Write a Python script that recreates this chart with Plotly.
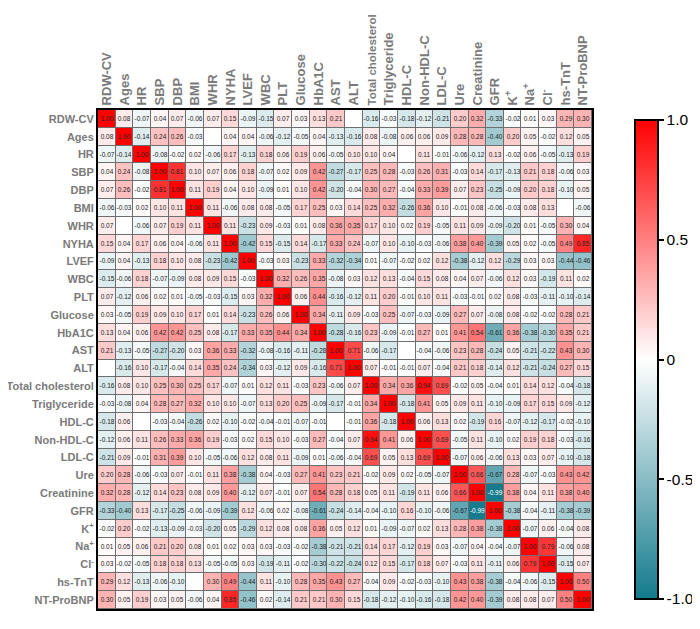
import plotly.graph_objects as go

labels = ["RDW-CV", "Ages", "HR", "SBP", "DBP", "BMI", "WHR", "NYHA", "LVEF", "WBC",
          "PLT", "Glucose", "HbA1C", "AST", "ALT", "Total cholesterol", "Triglyceride",
          "HDL-C", "Non-HDL-C", "LDL-C", "Ure", "Creatinine", "GFR", "K<sup>+</sup>",
          "Na<sup>+</sup>", "Cl<sup>-</sup>", "hs-TnT", "NT-ProBNP"]

# Upper-triangle rows (row i holds columns i..27); None = blank cell
r_rdw = [1.00, 0.08, -0.07, 0.04, 0.07, -0.06, 0.07, 0.15, -0.09, -0.15, 0.07, 0.03, 0.13, 0.21, None, -0.16, -0.03, -0.18, -0.12, -0.21, 0.20, 0.32, -0.33, -0.02, 0.01, 0.03, 0.29, 0.30]
r_age = [1.00, -0.14, 0.24, 0.26, -0.03, None, 0.04, 0.04, -0.06, -0.12, -0.05, 0.04, -0.13, -0.16, 0.08, -0.08, 0.06, 0.06, 0.09, 0.28, 0.28, -0.40, 0.20, 0.05, -0.02, 0.12, 0.05]
r_hr = [1.00, -0.08, -0.02, 0.02, -0.06, 0.17, -0.13, 0.18, 0.06, 0.19, 0.06, -0.05, 0.10, 0.10, 0.04, None, 0.11, -0.01, -0.06, -0.12, 0.13, -0.02, 0.06, -0.05, -0.13, 0.19]
r_sbp = [1.00, 0.81, 0.10, 0.07, 0.06, 0.18, -0.07, 0.02, 0.09, 0.42, -0.27, -0.17, 0.25, 0.28, -0.03, 0.26, 0.31, -0.03, 0.14, -0.17, -0.13, 0.21, 0.18, -0.06, 0.03]
r_dbp = [1.00, 0.11, 0.19, 0.04, 0.10, -0.09, 0.01, 0.10, 0.42, -0.20, -0.04, 0.30, 0.27, -0.04, 0.33, 0.39, 0.07, 0.23, -0.25, -0.09, 0.20, 0.18, -0.10, 0.05]
r_bmi = [1.00, 0.11, -0.06, 0.08, 0.08, -0.05, 0.17, 0.25, 0.03, 0.14, 0.25, 0.32, -0.26, 0.36, 0.10, -0.01, 0.08, -0.06, -0.03, 0.08, 0.13, None, -0.06]
r_whr = [1.00, 0.11, -0.23, 0.09, -0.03, 0.01, 0.08, 0.36, 0.35, 0.17, 0.10, 0.02, 0.19, -0.05, 0.11, 0.09, -0.09, -0.20, 0.01, -0.05, 0.30, 0.04]
r_nyha = [1.00, -0.42, 0.15, -0.15, 0.14, -0.17, 0.33, 0.24, -0.07, 0.10, -0.10, -0.03, -0.06, 0.38, 0.40, -0.39, 0.05, 0.02, -0.05, 0.49, 0.85]
r_lvef = [1.00, -0.03, 0.03, -0.23, 0.33, -0.32, -0.34, 0.01, -0.07, -0.02, 0.02, 0.12, -0.38, -0.12, 0.12, -0.29, 0.03, 0.03, -0.44, -0.46]
r_wbc = [1.00, 0.32, 0.26, 0.35, -0.08, 0.03, 0.12, 0.13, -0.04, 0.15, 0.08, 0.04, 0.07, -0.06, 0.12, 0.03, -0.19, 0.11, 0.02]
r_plt = [1.00, 0.06, 0.44, -0.16, -0.12, 0.11, 0.20, -0.01, 0.10, 0.11, -0.03, -0.01, 0.02, 0.08, -0.03, -0.11, -0.10, -0.14]
r_glu = [1.00, 0.34, -0.11, 0.09, -0.03, 0.25, -0.07, -0.03, -0.09, 0.27, 0.07, -0.08, 0.08, -0.02, -0.02, 0.28, 0.21]
r_hba = [1.00, -0.28, -0.16, 0.23, -0.09, -0.01, 0.27, 0.01, 0.41, 0.54, -0.61, 0.36, -0.38, -0.30, 0.35, 0.21]
r_ast = [1.00, 0.71, -0.06, -0.17, None, -0.04, -0.06, 0.23, 0.28, -0.24, 0.05, -0.21, -0.22, 0.43, 0.30]
r_alt = [1.00, 0.07, -0.01, -0.01, 0.07, -0.04, 0.21, 0.18, -0.14, 0.12, -0.21, -0.24, 0.27, 0.15]
r_tc = [1.00, 0.34, 0.36, 0.94, 0.69, -0.02, 0.05, -0.04, 0.01, 0.14, 0.12, -0.04, -0.18]
r_tg = [1.00, -0.18, 0.41, 0.05, 0.09, 0.11, -0.10, -0.09, 0.17, 0.15, 0.09, -0.12]
r_hdl = [1.00, 0.06, 0.13, 0.02, -0.19, 0.16, -0.07, -0.12, -0.17, -0.02, -0.10]
r_nhdl = [1.00, 0.69, -0.05, 0.11, -0.10, 0.02, 0.19, 0.18, -0.03, -0.16]
r_ldl = [1.00, -0.07, 0.06, -0.06, 0.13, 0.03, 0.07, -0.10, -0.18]
r_ure = [1.00, 0.66, -0.67, 0.28, -0.07, -0.03, 0.43, 0.42]
r_cre = [1.00, -0.99, 0.38, 0.04, 0.11, 0.38, 0.40]
r_gfr = [1.00, -0.38, -0.04, -0.11, -0.38, -0.39]
r_k = [1.00, -0.07, 0.06, -0.04, 0.08]
r_na = [1.00, 0.79, -0.06, 0.08]
r_cl = [1.00, -0.15, 0.07]
r_hs = [1.00, 0.50]
r_nt = [1.00]

upper = [r_rdw, r_age, r_hr, r_sbp, r_dbp, r_bmi, r_whr, r_nyha, r_lvef, r_wbc, r_plt,
         r_glu, r_hba, r_ast, r_alt, r_tc, r_tg, r_hdl, r_nhdl, r_ldl, r_ure, r_cre,
         r_gfr, r_k, r_na, r_cl, r_hs, r_nt]

n = len(labels)
M = [[None] * n for _ in range(n)]
for i, row in enumerate(upper):
    for k, v in enumerate(row):
        j = i + k
        M[i][j] = v
        M[j][i] = v

z = [[(0.0 if v is None else v) for v in row] for row in M]
text = [[("" if (v is None or v < -0.8) else f"{v:.2f}") for v in row] for row in M]

idx = list(range(n))
cell_font = dict(size=6.5, color="#222222", family="Liberation Sans, Arial")
fig = go.Figure()
fig.add_trace(go.Heatmap(
    z=z, x=idx, y=idx, text=text, texttemplate="%{text}",
    textfont=cell_font,
    colorscale=[[0, "#137a8c"], [0.5, "#ffffff"], [1, "#ff0000"]],
    zmin=-1, zmax=1, xgap=1, ygap=1, hoverinfo="skip",
    colorbar=dict(
        x=1.067, xanchor="left", y=0.5, yanchor="middle", len=1.0, lenmode="fraction",
        thickness=23, outlinewidth=2, outlinecolor="black",
        tickvals=[-1, -0.5, 0, 0.5, 1], ticktext=["-1.0", "-0.5", "0", "0.5", "1.0"],
        ticks="outside", ticklen=5, tickwidth=1.5, tickcolor="black",
        tickfont=dict(size=15.5, color="black", family="Liberation Sans, Arial"),
    ),
))

# white labels for very dark cells
wx, wy, wt = [], [], []
for i in range(n):
    for j in range(n):
        v = M[i][j]
        if v is not None and v < -0.8:
            wx.append(j); wy.append(i); wt.append(f"{v:.2f}")
fig.add_trace(go.Scatter(x=wx, y=wy, text=wt, mode="text", hoverinfo="skip",
                         textfont=dict(size=6.5, color="white", family="Liberation Sans, Arial"),
                         showlegend=False))

col_text = []
for l in labels:
    if l == "Total cholesterol":
        col_text.append(f'<span style="font-size:11.5px"><b>{l}</b></span>')
    else:
        col_text.append(f"<b>{l}</b>")

row_font = dict(size=11, color="#7a7a7a", family="Liberation Sans, Arial")
col_font = dict(size=13, color="#7a7a7a", family="Liberation Sans, Arial")
fig.update_xaxes(side="top", tickvals=idx, ticktext=col_text,
                 tickangle=-90, tickfont=col_font, range=[-0.5, n - 0.5],
                 showline=True, mirror=True, linecolor="black", linewidth=2,
                 showgrid=False, zeroline=False, ticks="", automargin=False)
fig.update_yaxes(tickvals=idx, ticktext=[f"<b>{l}</b>" for l in labels],
                 tickfont=row_font, range=[n - 0.5, -0.5],
                 showline=True, mirror=True, linecolor="black", linewidth=2,
                 showgrid=False, zeroline=False, ticks="", automargin=False)
fig.update_layout(
    width=700, height=629,
    margin=dict(l=90, r=116, t=102, b=28, autoexpand=False),
    plot_bgcolor="#6e6e6e", paper_bgcolor="white",
    showlegend=False,
)
fig.write_html("out.html")
